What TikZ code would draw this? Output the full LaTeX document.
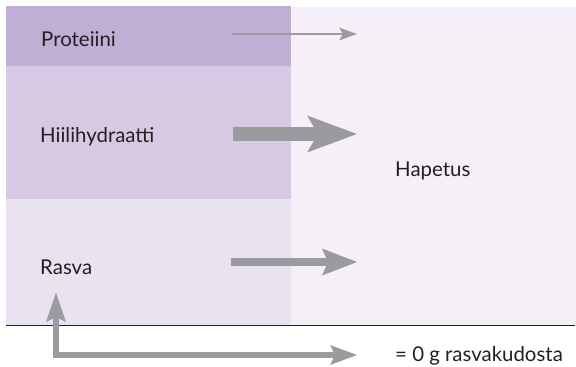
\documentclass[tikz,border=0pt]{standalone}
\usepackage{fontspec}
\setmainfont{Lato}
\usetikzlibrary{arrows.meta}
\definecolor{protein}{HTML}{C0AFD4}
\definecolor{carb}{HTML}{D7C9E4}
\definecolor{fat}{HTML}{E9E3F1}
\definecolor{oxid}{HTML}{F5F0F7}
\definecolor{flow}{HTML}{9B9A9F}
\definecolor{ink}{HTML}{231F20}
\tikzset{
  band/.style={draw=none, inner sep=0pt, anchor=north west},
  lbl/.style={anchor=base west, inner sep=0pt, text=ink, font=\fontsize{20.5}{24}\selectfont},
  flowline/.style={draw=flow, line join=miter},
}
\begin{document}
\begin{tikzpicture}[x=1bp,y=-1bp]
  \useasboundingbox (0,0) rectangle (576,366);
  % background panels
  \node[band, fill=oxid, minimum width=285bp, minimum height=318bp] (oxpanel) at (291,7) {};
  \node[band, fill=protein, minimum width=285bp, minimum height=60bp] (pband) at (6,6) {};
  \node[band, fill=carb, minimum width=285bp, minimum height=133bp] (cband) at (6,66) {};
  \node[band, fill=fat, minimum width=285bp, minimum height=126bp] (fband) at (6,199) {};
  % baseline rule
  \coordinate (ruleL) at (6,325);
  \coordinate (ruleR) at (575,325);
  \draw[ink, line width=1bp] (ruleL) -- (ruleR);
  % labels
  \node[lbl] (ptext) at (41,46) {Proteiini};
  \node[lbl] (ctext) at (40,142) {Hiilihydraatti};
  \node[lbl] (ftext) at (40,274) {Rasva};
  \node[lbl] (otext) at (395,176) {Hapetus};
  \node[lbl] (zero) at (395,361) {= 0 g rasvakudosta};
  % flows to oxidation
  \coordinate (pA) at (232,34);  \coordinate (pB) at (357,34);
  \coordinate (cA) at (233,134); \coordinate (cB) at (357,134);
  \coordinate (fA) at (231,262); \coordinate (fB) at (357,262);
  \draw[flowline, line width=2.5bp, -{Stealth[length=18bp, width=13bp, inset=4bp, line width=0pt]}] (pA) -- (pB);
  \draw[flowline, line width=14bp, -{Stealth[length=50bp, width=37bp, inset=11bp, line width=0pt]}] (cA) -- (cB);
  \draw[flowline, line width=8bp, -{Stealth[length=35bp, width=27bp, inset=6bp, line width=0pt]}] (fA) -- (fB);
  % storage loop below the rule
  \coordinate (sR) at (357,355);
  \coordinate (sC) at (56,355);
  \coordinate (sU) at (56,293);
  \draw[flowline, line width=6bp, {Stealth[length=27bp, width=20bp, inset=5bp, line width=0pt]}-{Stealth[length=29bp, width=20bp, inset=5bp, line width=0pt]}] (sR) -- (sC) -- (sU);
\end{tikzpicture}
\end{document}
